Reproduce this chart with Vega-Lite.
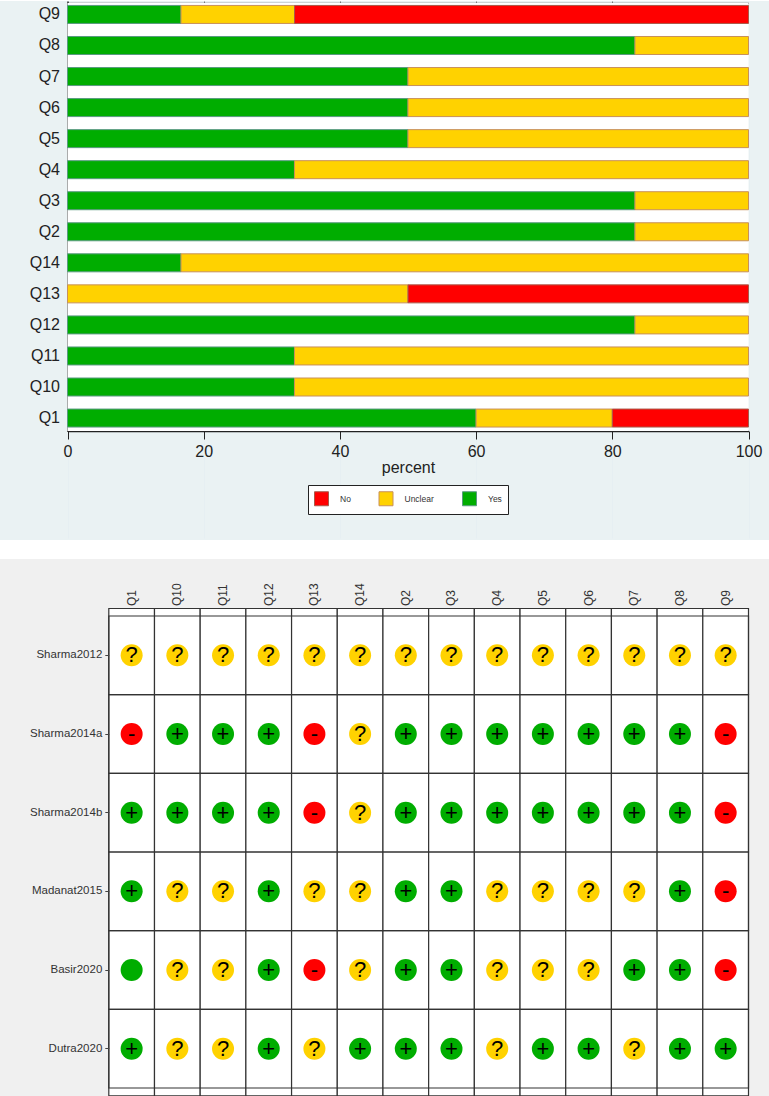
{
"$schema":"https://vega.github.io/schema/vega-lite/v6.json",
"padding":0,
"background":"#ffffff",
"spacing":19,
"config":{"view":{"stroke":null},"font":"Liberation Sans"},
"datasets":{
"frame":[{"lo":0,"hi":100,"a":0,"b":1}],
"bars":[
{"question":"Q9","response":"Yes","percent":16.67,"rank":1},{"question":"Q9","response":"Unclear","percent":16.67,"rank":2},{"question":"Q9","response":"No","percent":66.66,"rank":3},
{"question":"Q8","response":"Yes","percent":83.33,"rank":1},{"question":"Q8","response":"Unclear","percent":16.67,"rank":2},
{"question":"Q7","response":"Yes","percent":50,"rank":1},{"question":"Q7","response":"Unclear","percent":50,"rank":2},
{"question":"Q6","response":"Yes","percent":50,"rank":1},{"question":"Q6","response":"Unclear","percent":50,"rank":2},
{"question":"Q5","response":"Yes","percent":50,"rank":1},{"question":"Q5","response":"Unclear","percent":50,"rank":2},
{"question":"Q4","response":"Yes","percent":33.33,"rank":1},{"question":"Q4","response":"Unclear","percent":66.67,"rank":2},
{"question":"Q3","response":"Yes","percent":83.33,"rank":1},{"question":"Q3","response":"Unclear","percent":16.67,"rank":2},
{"question":"Q2","response":"Yes","percent":83.33,"rank":1},{"question":"Q2","response":"Unclear","percent":16.67,"rank":2},
{"question":"Q14","response":"Yes","percent":16.67,"rank":1},{"question":"Q14","response":"Unclear","percent":83.33,"rank":2},
{"question":"Q13","response":"Unclear","percent":50,"rank":2},{"question":"Q13","response":"No","percent":50,"rank":3},
{"question":"Q12","response":"Yes","percent":83.33,"rank":1},{"question":"Q12","response":"Unclear","percent":16.67,"rank":2},
{"question":"Q11","response":"Yes","percent":33.33,"rank":1},{"question":"Q11","response":"Unclear","percent":66.67,"rank":2},
{"question":"Q10","response":"Yes","percent":33.33,"rank":1},{"question":"Q10","response":"Unclear","percent":66.67,"rank":2},
{"question":"Q1","response":"Yes","percent":60,"rank":1},{"question":"Q1","response":"Unclear","percent":20,"rank":2},{"question":"Q1","response":"No","percent":20,"rank":3}
],
"columns":[{"q":"Q1","a":0,"b":1},{"q":"Q10","a":0,"b":1},{"q":"Q11","a":0,"b":1},{"q":"Q12","a":0,"b":1},{"q":"Q13","a":0,"b":1},{"q":"Q14","a":0,"b":1},{"q":"Q2","a":0,"b":1},{"q":"Q3","a":0,"b":1},{"q":"Q4","a":0,"b":1},{"q":"Q5","a":0,"b":1},{"q":"Q6","a":0,"b":1},{"q":"Q7","a":0,"b":1},{"q":"Q8","a":0,"b":1},{"q":"Q9","a":0,"b":1}],
"studies":[{"s":"Sharma2012","a":0,"b":1},{"s":"Sharma2014a","a":0,"b":1},{"s":"Sharma2014b","a":0,"b":1},{"s":"Madanat2015","a":0,"b":1},{"s":"Basir2020","a":0,"b":1},{"s":"Dutra2020","a":0,"b":1}],
"matrix":[
{"s":"Sharma2012","q":"Q1","j":"Unclear","t":"?"},{"s":"Sharma2012","q":"Q10","j":"Unclear","t":"?"},{"s":"Sharma2012","q":"Q11","j":"Unclear","t":"?"},{"s":"Sharma2012","q":"Q12","j":"Unclear","t":"?"},{"s":"Sharma2012","q":"Q13","j":"Unclear","t":"?"},{"s":"Sharma2012","q":"Q14","j":"Unclear","t":"?"},{"s":"Sharma2012","q":"Q2","j":"Unclear","t":"?"},{"s":"Sharma2012","q":"Q3","j":"Unclear","t":"?"},{"s":"Sharma2012","q":"Q4","j":"Unclear","t":"?"},{"s":"Sharma2012","q":"Q5","j":"Unclear","t":"?"},{"s":"Sharma2012","q":"Q6","j":"Unclear","t":"?"},{"s":"Sharma2012","q":"Q7","j":"Unclear","t":"?"},{"s":"Sharma2012","q":"Q8","j":"Unclear","t":"?"},{"s":"Sharma2012","q":"Q9","j":"Unclear","t":"?"},
{"s":"Sharma2014a","q":"Q1","j":"No","t":"-"},{"s":"Sharma2014a","q":"Q10","j":"Yes","t":"+"},{"s":"Sharma2014a","q":"Q11","j":"Yes","t":"+"},{"s":"Sharma2014a","q":"Q12","j":"Yes","t":"+"},{"s":"Sharma2014a","q":"Q13","j":"No","t":"-"},{"s":"Sharma2014a","q":"Q14","j":"Unclear","t":"?"},{"s":"Sharma2014a","q":"Q2","j":"Yes","t":"+"},{"s":"Sharma2014a","q":"Q3","j":"Yes","t":"+"},{"s":"Sharma2014a","q":"Q4","j":"Yes","t":"+"},{"s":"Sharma2014a","q":"Q5","j":"Yes","t":"+"},{"s":"Sharma2014a","q":"Q6","j":"Yes","t":"+"},{"s":"Sharma2014a","q":"Q7","j":"Yes","t":"+"},{"s":"Sharma2014a","q":"Q8","j":"Yes","t":"+"},{"s":"Sharma2014a","q":"Q9","j":"No","t":"-"},
{"s":"Sharma2014b","q":"Q1","j":"Yes","t":"+"},{"s":"Sharma2014b","q":"Q10","j":"Yes","t":"+"},{"s":"Sharma2014b","q":"Q11","j":"Yes","t":"+"},{"s":"Sharma2014b","q":"Q12","j":"Yes","t":"+"},{"s":"Sharma2014b","q":"Q13","j":"No","t":"-"},{"s":"Sharma2014b","q":"Q14","j":"Unclear","t":"?"},{"s":"Sharma2014b","q":"Q2","j":"Yes","t":"+"},{"s":"Sharma2014b","q":"Q3","j":"Yes","t":"+"},{"s":"Sharma2014b","q":"Q4","j":"Yes","t":"+"},{"s":"Sharma2014b","q":"Q5","j":"Yes","t":"+"},{"s":"Sharma2014b","q":"Q6","j":"Yes","t":"+"},{"s":"Sharma2014b","q":"Q7","j":"Yes","t":"+"},{"s":"Sharma2014b","q":"Q8","j":"Yes","t":"+"},{"s":"Sharma2014b","q":"Q9","j":"No","t":"-"},
{"s":"Madanat2015","q":"Q1","j":"Yes","t":"+"},{"s":"Madanat2015","q":"Q10","j":"Unclear","t":"?"},{"s":"Madanat2015","q":"Q11","j":"Unclear","t":"?"},{"s":"Madanat2015","q":"Q12","j":"Yes","t":"+"},{"s":"Madanat2015","q":"Q13","j":"Unclear","t":"?"},{"s":"Madanat2015","q":"Q14","j":"Unclear","t":"?"},{"s":"Madanat2015","q":"Q2","j":"Yes","t":"+"},{"s":"Madanat2015","q":"Q3","j":"Yes","t":"+"},{"s":"Madanat2015","q":"Q4","j":"Unclear","t":"?"},{"s":"Madanat2015","q":"Q5","j":"Unclear","t":"?"},{"s":"Madanat2015","q":"Q6","j":"Unclear","t":"?"},{"s":"Madanat2015","q":"Q7","j":"Unclear","t":"?"},{"s":"Madanat2015","q":"Q8","j":"Yes","t":"+"},{"s":"Madanat2015","q":"Q9","j":"No","t":"-"},
{"s":"Basir2020","q":"Q1","j":"Yes","t":""},{"s":"Basir2020","q":"Q10","j":"Unclear","t":"?"},{"s":"Basir2020","q":"Q11","j":"Unclear","t":"?"},{"s":"Basir2020","q":"Q12","j":"Yes","t":"+"},{"s":"Basir2020","q":"Q13","j":"No","t":"-"},{"s":"Basir2020","q":"Q14","j":"Unclear","t":"?"},{"s":"Basir2020","q":"Q2","j":"Yes","t":"+"},{"s":"Basir2020","q":"Q3","j":"Yes","t":"+"},{"s":"Basir2020","q":"Q4","j":"Unclear","t":"?"},{"s":"Basir2020","q":"Q5","j":"Unclear","t":"?"},{"s":"Basir2020","q":"Q6","j":"Unclear","t":"?"},{"s":"Basir2020","q":"Q7","j":"Yes","t":"+"},{"s":"Basir2020","q":"Q8","j":"Yes","t":"+"},{"s":"Basir2020","q":"Q9","j":"No","t":"-"},
{"s":"Dutra2020","q":"Q1","j":"Yes","t":"+"},{"s":"Dutra2020","q":"Q10","j":"Unclear","t":"?"},{"s":"Dutra2020","q":"Q11","j":"Unclear","t":"?"},{"s":"Dutra2020","q":"Q12","j":"Yes","t":"+"},{"s":"Dutra2020","q":"Q13","j":"Unclear","t":"?"},{"s":"Dutra2020","q":"Q14","j":"Yes","t":"+"},{"s":"Dutra2020","q":"Q2","j":"Yes","t":"+"},{"s":"Dutra2020","q":"Q3","j":"Yes","t":"+"},{"s":"Dutra2020","q":"Q4","j":"Unclear","t":"?"},{"s":"Dutra2020","q":"Q5","j":"Yes","t":"+"},{"s":"Dutra2020","q":"Q6","j":"Yes","t":"+"},{"s":"Dutra2020","q":"Q7","j":"Unclear","t":"?"},{"s":"Dutra2020","q":"Q8","j":"Yes","t":"+"},{"s":"Dutra2020","q":"Q9","j":"Yes","t":"+"}
]
},
"vconcat":[
{
"width":769,"height":539,
"view":{"fill":"#eaf2f3","stroke":null},
"resolve":{"scale":{"y":"independent"}},
"layer":[
{
"data":{"name":"frame"},
"mark":{"type":"rect","fill":"#ffffff"},
"encoding":{
"x":{"field":"lo","type":"quantitative","scale":{"domain":[0,100],"range":[67.5,748.5],"nice":false},
"axis":{"orient":"bottom","offset":-109,"values":[0,20,40,60,80,100],"title":"percent","titleFontSize":16,"titleFontWeight":"normal","titleColor":"#222222","titlePadding":0,"labelFontSize":16,"labelColor":"#222222","labelPadding":4,"labelFlush":false,"tickColor":"#222222","tickSize":8,"domainColor":"#222222","domainWidth":1.5,"grid":true,"gridColor":"#e6eff2","gridWidth":1}},
"x2":{"field":"hi"},
"y":{"field":"a","type":"quantitative","scale":{"domain":[0,1],"range":[430,2]},"axis":null},
"y2":{"field":"b"}
}
},
{
"data":{"name":"frame"},
"mark":{"type":"rect","fill":null,"stroke":null},
"encoding":{
"x":{"field":"lo","type":"quantitative","scale":{"domain":[0,100],"range":[67.5,748.5],"nice":false},
"axis":{"orient":"top","offset":-2,"values":[20,40,60,80],"title":null,"labels":false,"tickColor":"#777777","tickSize":2,"domainColor":"#777777","domainWidth":1.5,"grid":false}},
"x2":{"field":"hi"},
"y":{"field":"a","type":"quantitative","scale":{"domain":[0,1],"range":[430,2]},"axis":null},
"y2":{"field":"b"}
}
},
{
"data":{"name":"bars"},
"mark":{"type":"bar","strokeWidth":1,"size":18},
"encoding":{
"y":{"field":"question","type":"nominal","sort":null,
"scale":{"domain":["Q9","Q8","Q7","Q6","Q5","Q4","Q3","Q2","Q14","Q13","Q12","Q11","Q10","Q1"],"range":[0,430.5],"paddingInner":0.414,"paddingOuter":0.14},
"axis":{"orient":"left","offset":-67.5,"title":null,"ticks":false,"labelFontSize":16,"labelColor":"#222222","labelPadding":8,"domainColor":"#222222","domainWidth":1.5}},
"x":{"field":"percent","type":"quantitative","stack":"zero","scale":{"domain":[0,100],"range":[67.5,748.5],"nice":false},"axis":null},
"order":{"field":"rank"},
"fill":{"field":"response","type":"nominal","scale":{"domain":["No","Unclear","Yes"],"range":["#ff0000","#ffd200","#00ad00"]},
"legend":{"orient":"none","legendX":308,"legendY":484,"direction":"horizontal","title":null,"fillColor":"#ffffff","strokeColor":"#222222","padding":6,"symbolType":"square","symbolSize":196,"symbolStrokeWidth":1,"symbolOpacity":1,"labelFontSize":8.5,"labelColor":"#333333","labelOffset":11,"columnPadding":25.5}},
"stroke":{"field":"response","type":"nominal","scale":{"domain":["No","Unclear","Yes"],"range":["#a85a4a","#c8905a","#5a9a80"]},
"legend":{"orient":"none","legendX":308,"legendY":484,"direction":"horizontal","title":null,"fillColor":"#ffffff","strokeColor":"#222222","padding":6,"symbolType":"square","symbolSize":196,"symbolStrokeWidth":1,"symbolOpacity":1,"labelFontSize":8.5,"labelColor":"#333333","labelOffset":11,"columnPadding":25.5}}
}
}
]
},
{
"width":769,"height":538,
"view":{"fill":"#f0f0f0","stroke":null},
"resolve":{"scale":{"x":"independent","y":"independent"}},
"layer":[
{
"data":{"name":"columns"},
"mark":{"type":"rect","fill":"#ffffff","stroke":"#333333","strokeWidth":1.2},
"encoding":{
"x":{"field":"q","type":"nominal","sort":null,"scale":{"domain":["Q1","Q10","Q11","Q12","Q13","Q14","Q2","Q3","Q4","Q5","Q6","Q7","Q8","Q9"],"range":[108.8,748.5],"paddingInner":0,"paddingOuter":0},
"axis":{"orient":"top","offset":-49.5,"title":null,"ticks":false,"domain":false,"labelAngle":-90,"labelFontSize":12,"labelColor":"#333333","labelPadding":3,"labelBaseline":"middle","labelAlign":"left"}},
"y":{"field":"a","type":"quantitative","scale":{"domain":[0,1],"range":[536.8,49.5]},"axis":null},
"y2":{"field":"b"}
}
},
{
"data":{"name":"studies"},
"mark":{"type":"rect","fill":null,"stroke":"#333333","strokeWidth":1.2},
"encoding":{
"y":{"field":"s","type":"nominal","sort":null,"scale":{"domain":["Sharma2012","Sharma2014a","Sharma2014b","Madanat2015","Basir2020","Dutra2020"],"range":[57,529],"paddingInner":0,"paddingOuter":0},
"axis":{"orient":"left","offset":-108.8,"title":null,"domain":false,"tickSize":4,"tickColor":"#444444","labelFontSize":11.5,"labelColor":"#333333","labelPadding":3}},
"x":{"field":"a","type":"quantitative","scale":{"domain":[0,1],"range":[108.8,748.5]},"axis":null},
"x2":{"field":"b"}
}
},
{
"data":{"name":"matrix"},
"mark":{"type":"circle","opacity":1},
"encoding":{
"x":{"field":"q","type":"nominal","sort":null,"scale":{"domain":["Q1","Q10","Q11","Q12","Q13","Q14","Q2","Q3","Q4","Q5","Q6","Q7","Q8","Q9"],"range":[108.8,748.5],"paddingInner":0,"paddingOuter":0},"axis":null},
"y":{"field":"s","type":"nominal","sort":null,"scale":{"domain":["Sharma2012","Sharma2014a","Sharma2014b","Madanat2015","Basir2020","Dutra2020"],"range":[57,529],"paddingInner":0,"paddingOuter":0},"axis":null},
"size":{"value":484},
"color":{"field":"j","type":"nominal","legend":null,"scale":{"domain":["No","Unclear","Yes"],"range":["#ff0000","#ffd200","#00ad00"]}}
}
},
{
"data":{"name":"matrix"},
"mark":{"type":"text","fontSize":22,"color":"#000000","baseline":"middle","align":"center"},
"encoding":{
"x":{"field":"q","type":"nominal","sort":null,"scale":{"domain":["Q1","Q10","Q11","Q12","Q13","Q14","Q2","Q3","Q4","Q5","Q6","Q7","Q8","Q9"],"range":[108.8,748.5],"paddingInner":0,"paddingOuter":0},"axis":null},
"y":{"field":"s","type":"nominal","sort":null,"scale":{"domain":["Sharma2012","Sharma2014a","Sharma2014b","Madanat2015","Basir2020","Dutra2020"],"range":[57,529],"paddingInner":0,"paddingOuter":0},"axis":null},
"text":{"field":"t"}
}
}
]
}
]
}
